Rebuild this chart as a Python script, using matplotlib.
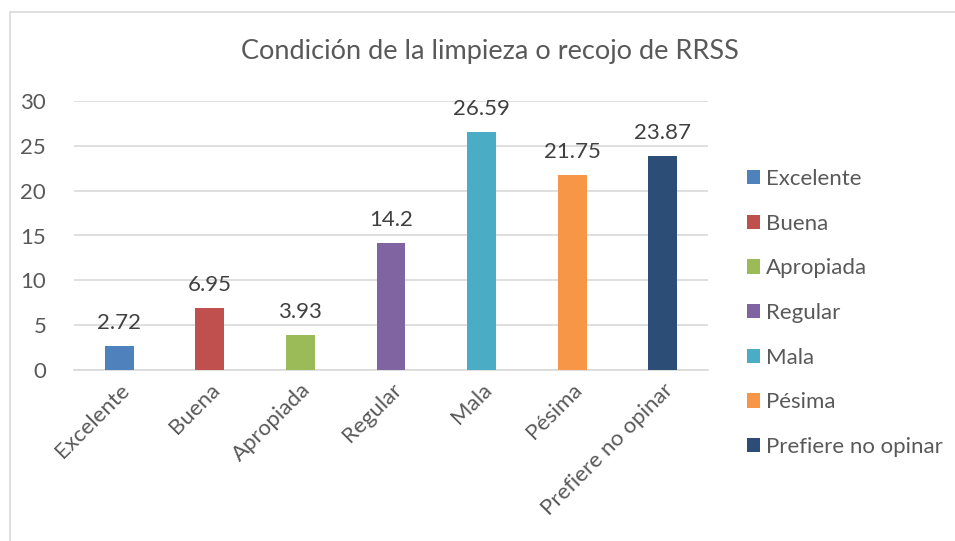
import matplotlib.pyplot as plt
from matplotlib.patches import Patch, Rectangle

categories = ["Excelente", "Buena", "Apropiada", "Regular", "Mala", "Pésima", "Prefiere no opinar"]
values = [2.72, 6.95, 3.93, 14.2, 26.59, 21.75, 23.87]
value_labels = ["2.72", "6.95", "3.93", "14.2", "26.59", "21.75", "23.87"]
colors = ["#4F81BD", "#C0504D", "#9BBB59", "#8064A2", "#4BACC6", "#F79646", "#2C4D75"]
yticks = [0, 5, 10, 15, 20, 25, 30]

text_color = "#595959"
plt.rcParams['font.family'] = ['Lato', 'DejaVu Sans']

W, H = 955, 541
fig = plt.figure(figsize=(W / 100, H / 100), dpi=100)
# chart frame: only left and top edges fall inside the picture
fig.patches.append(Rectangle((10 / W, -0.02), 1.0, 1.02 - 12 / H,
                             transform=fig.transFigure, fill=False, ec="#D9D9D9", lw=1.2))

ax = fig.add_axes([74 / W, 1 - 370 / H, (708 - 74) / W, (370 - 101) / H])
x = range(len(categories))
ax.bar(x, values, width=0.32, color=colors, zorder=3)
for xi, v, lab in zip(x, values, value_labels):
    ax.annotate(lab, (xi, v), xytext=(0, 9), textcoords="offset points",
                ha="center", va="bottom", fontsize=16, color="#404040")

ax.set_xlim(-0.5, len(categories) - 0.5)
ax.set_ylim(0, 30)
ax.set_yticks(yticks)
ax.yaxis.grid(True, color="#D9D9D9", lw=1.2, zorder=0)
for s in ["top", "right", "left"]:
    ax.spines[s].set_visible(False)
ax.spines["bottom"].set_color("#D9D9D9")
ax.spines["bottom"].set_linewidth(1.2)
ax.tick_params(axis="both", length=0, labelsize=16, colors=text_color)
ax.tick_params(axis="y", pad=20)
ax.set_xticks(list(x))
ax.set_xticklabels(categories, rotation=45, ha="right", rotation_mode="anchor")
ax.tick_params(axis="x", pad=7)

fig.text(490 / W, 1 - 52 / H, "Condición de la limpieza o recojo de RRSS",
         ha="center", va="center", fontsize=19.5, color=text_color)

handles = [Patch(facecolor=c, label=l) for c, l in zip(colors, categories)]
fig.legend(handles=handles, loc="center left", bbox_to_anchor=(727 / W, 1 - 313 / H),
           frameon=False, fontsize=16, labelcolor=text_color, handlelength=0.6,
           handleheight=0.6, handletextpad=0.25, labelspacing=1.11)

fig.savefig("out.png", dpi=100)
